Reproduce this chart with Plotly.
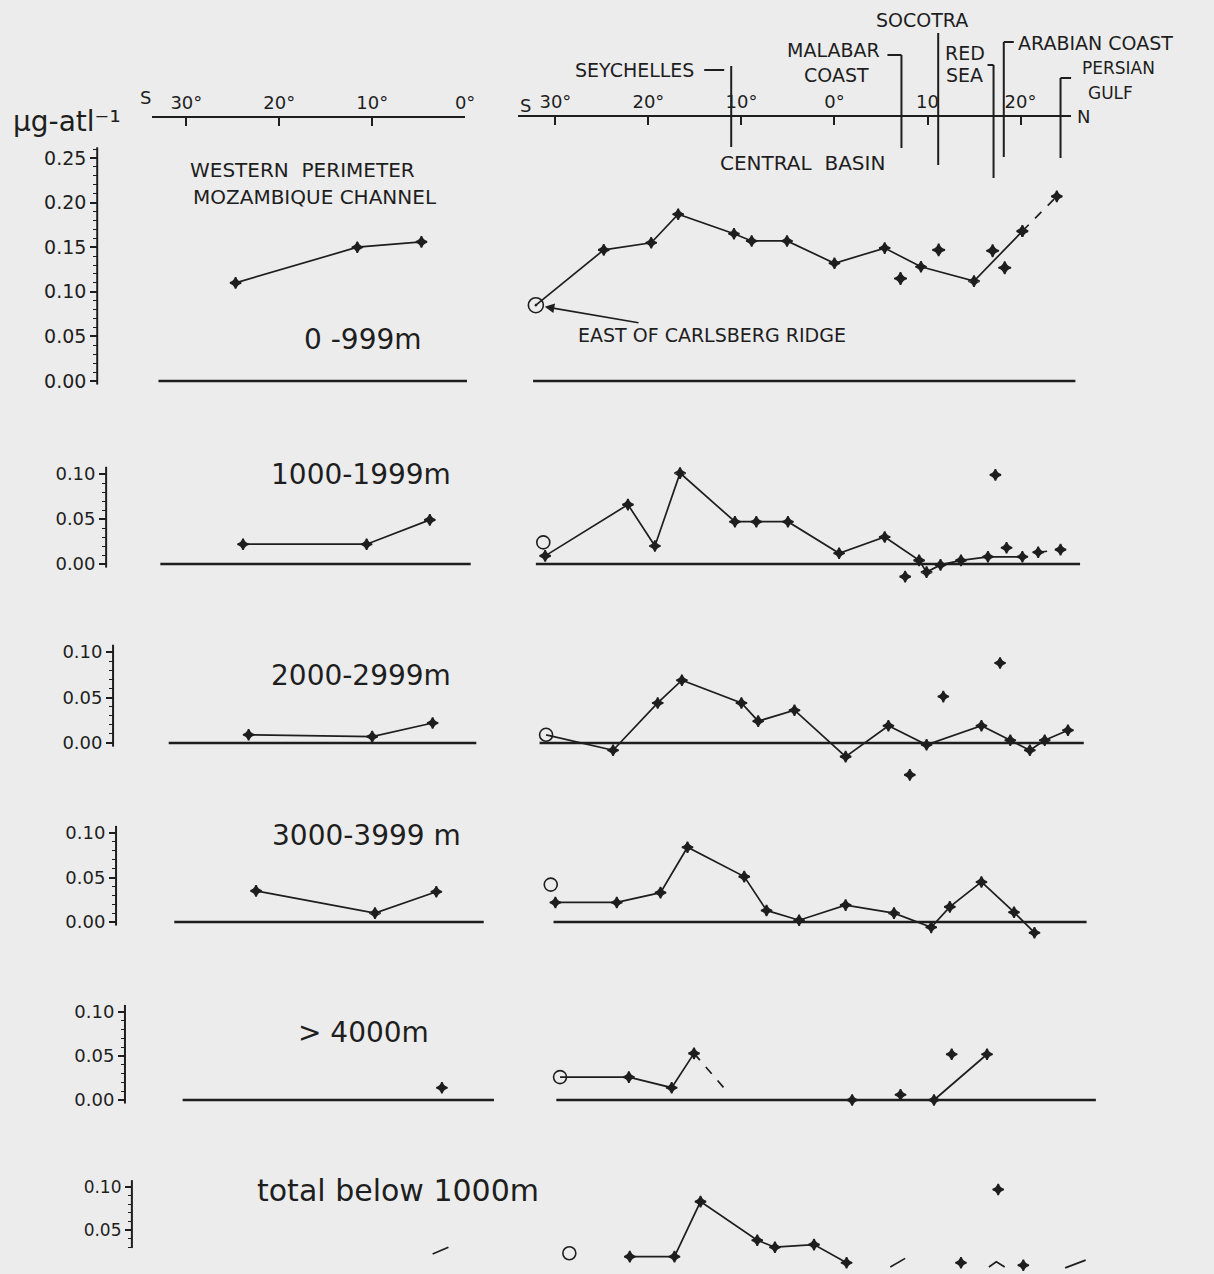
import plotly.graph_objects as go

W, H = 1214, 1274
INK = "#1e1e1e"
FONT = "DejaVu Sans"

# ------------------------------------------------------------------ data
# latitude in degrees: negative = south, positive = north
left_ticks = [-30, -20, -10, 0]
left_tick_text = ["30°", "20°", "10°", "0°"]
right_ticks = [-30, -20, -10, 0, 10, 20]
right_tick_text = ["30°", "20°", "10°", "0°", "10", "20°"]

depth_labels = ["0 -999m", "1000-1999m", "2000-2999m", "3000-3999 m", "> 4000m", "total below 1000m"]

# region boundaries along the central-basin transect (latitude)
boundary_lat = [-11.1, 7.2, 11.15, 17.1, 18.2, 24.3]

# transect extents (zero line) for each depth layer
west_extent = [(-33.0, 0.2), (-32.8, 0.6), (-31.9, 1.2), (-31.3, 2.0), (-30.4, 3.1), None]
central_extent = [(-32.4, 25.9), (-32.1, 26.4), (-31.7, 26.8), (-30.2, 27.1), (-29.9, 28.1), None]

# ---- layer 1 : 0-999 m
w1_lat = [-24.7, -11.6, -4.7]
w1_val = [0.110, 0.150, 0.156]
c1_lat = [-32.1, -24.8, -19.7, -16.8, -10.8, -8.9, -5.1, 0.0, 5.4, 9.3, 15.0, 20.2]
c1_val = [0.085, 0.147, 0.155, 0.187, 0.165, 0.157, 0.157, 0.132, 0.149, 0.128, 0.112, 0.168]
c1_dash_lat = [20.2, 23.9]
c1_dash_val = [0.168, 0.207]
c1_iso_lat = [7.1, 11.2, 17.0, 18.3]
c1_iso_val = [0.115, 0.147, 0.146, 0.127]
c1_circle = (-32.1, 0.085)

# ---- layer 2 : 1000-1999 m
w2_lat = [-23.9, -10.6, -3.8]
w2_val = [0.022, 0.022, 0.049]
c2_lat = [-31.1, -22.2, -19.3, -16.6, -10.7, -8.4, -5.0, 0.5, 5.4, 9.1, 9.9, 11.4, 13.6, 16.5, 20.2]
c2_val = [0.009, 0.066, 0.020, 0.101, 0.047, 0.047, 0.047, 0.012, 0.030, 0.004, -0.009, -0.001, 0.004, 0.008, 0.008]
c2_dash_lat = [21.9, 24.3]
c2_dash_val = [0.013, 0.016]
c2_iso_lat = [17.3, 7.6, 18.5]
c2_iso_val = [0.099, -0.014, 0.018]
c2_circle = (-31.3, 0.024)

# ---- layer 3 : 2000-2999 m
w3_lat = [-23.3, -10.0, -3.5]
w3_val = [0.009, 0.007, 0.022]
c3_lat = [-31.0, -23.8, -19.0, -16.4, -10.0, -8.2, -4.3, 1.2, 5.8, 9.9, 15.8, 18.9, 21.0, 22.6, 25.1]
c3_val = [0.009, -0.008, 0.044, 0.069, 0.044, 0.024, 0.036, -0.015, 0.019, -0.002, 0.019, 0.003, -0.008, 0.003, 0.014]
c3_iso_lat = [11.7, 17.8, 8.1]
c3_iso_val = [0.051, 0.088, -0.035]
c3_circle = (-31.0, 0.009)

# ---- layer 4 : 3000-3999 m
w4_lat = [-22.5, -9.7, -3.1]
w4_val = [0.035, 0.010, 0.034]
c4_lat = [-30.0, -23.4, -18.7, -15.8, -9.7, -7.3, -3.8, 1.2, 6.4, 10.4, 12.4, 15.8, 19.3, 21.5]
c4_val = [0.022, 0.022, 0.033, 0.084, 0.051, 0.013, 0.002, 0.019, 0.010, -0.006, 0.017, 0.045, 0.011, -0.012]
c4_circle = (-30.5, 0.042)

# ---- layer 5 : > 4000 m
w5_iso_lat = [-2.5]
w5_iso_val = [0.014]
c5a_lat = [-29.5, -22.1, -17.5, -15.1]
c5a_val = [0.026, 0.026, 0.014, 0.053]
c5_dash_lat = [-15.1, -11.9]
c5_dash_val = [0.053, 0.014]
c5b_lat = [10.7, 16.4]
c5b_val = [0.0, 0.052]
c5_iso_lat = [1.9, 7.1, 12.6]
c5_iso_val = [0.0, 0.006, 0.052]
c5_circle = (-29.5, 0.026)

# ---- layer 6 : total below 1000 m
w6_lat = [-3.5, -1.8]
w6_val = [0.022, 0.030]
c6_lat = [-22.0, -17.2, -14.4, -8.3, -6.4, -2.2, 1.3]
c6_val = [0.019, 0.019, 0.083, 0.038, 0.030, 0.033, 0.012]
c6_seg1_lat = [6.0, 7.6]
c6_seg1_val = [0.007, 0.017]
c6_seg2_lat = [16.6, 17.4, 18.3]
c6_seg2_val = [0.007, 0.013, 0.007]
c6_seg3_lat = [24.8, 27.0]
c6_seg3_val = [0.006, 0.015]
c6_iso_lat = [13.6, 20.3, 17.6]
c6_iso_val = [0.012, 0.009, 0.097]
c6_circle = (-28.5, 0.023)

# ------------------------------------------------------------------ layout geometry (pixels)
ROWS = [
    dict(zero=381, k=892, top=135, bottom=405, ax=98, lo=-0.004, hi=0.262, fs=19,
         ticks=[0.0, 0.05, 0.10, 0.15, 0.20, 0.25], mlo=0.0, mhi=0.26, label=(366, 340)),
    dict(zero=564, k=900, top=450, bottom=595, ax=107, lo=-0.004, hi=0.108, fs=18,
         ticks=[0.0, 0.05, 0.10], mlo=0.0, mhi=0.10, label=(364, 475)),
    dict(zero=743, k=910, top=625, bottom=790, ax=114, lo=-0.004, hi=0.108, fs=18,
         ticks=[0.0, 0.05, 0.10], mlo=0.0, mhi=0.10, label=(364, 675)),
    dict(zero=922, k=890, top=805, bottom=955, ax=117, lo=-0.004, hi=0.108, fs=18,
         ticks=[0.0, 0.05, 0.10], mlo=0.0, mhi=0.10, label=(370, 835)),
    dict(zero=1100, k=880, top=990, bottom=1125, ax=126, lo=-0.004, hi=0.108, fs=18,
         ticks=[0.0, 0.05, 0.10], mlo=0.0, mhi=0.10, label=(367, 1032)),
    dict(zero=1273, k=860, top=1165, bottom=1274, ax=133, lo=0.029, hi=0.108, fs=17,
         ticks=[0.05, 0.10], mlo=0.03, mhi=0.10, label=(401, 1190)),
]

L0, LK = 469.0, 9.37   # west panel: px of 0 deg, px per degree
R0, RK = 841.4, 9.38   # central panel


def px(x):
    return x / W


def py(y):
    return 1 - y / H


fig = go.Figure()


def yname(r):
    return "y" if r == 1 else f"y{r}"


def add(lat, val, r, side, mode="lines+markers", dash=None, width=1.7, symbol="star-diamond",
        size=8):
    fig.add_trace(go.Scatter(
        x=lat, y=val, xaxis="x" if side == "w" else "x2", yaxis=yname(r), mode=mode,
        line=dict(color=INK, width=width, dash=dash),
        marker=dict(symbol=symbol, size=size, color=INK, line=dict(color=INK, width=1.6)),
        cliponaxis=False, hoverinfo="skip", showlegend=False))


def circle(pt, r, dot=False):
    add([pt[0]], [pt[1]], r, "c", mode="markers",
        symbol="circle-open-dot" if dot else "circle-open", size=15 if dot else 13)


# zero lines
for i in range(6):
    r = i + 1
    if west_extent[i]:
        add(list(west_extent[i]), [0, 0], r, "w", mode="lines", width=2.6)
    if central_extent[i]:
        add(list(central_extent[i]), [0, 0], r, "c", mode="lines", width=2.6)

# layer 1
add(w1_lat, w1_val, 1, "w")
add(c1_lat[1:], c1_val[1:], 1, "c")
add(c1_lat[:2], c1_val[:2], 1, "c", mode="lines")
add(c1_dash_lat, c1_dash_val, 1, "c", dash="dash")
add(c1_iso_lat, c1_iso_val, 1, "c", mode="markers", size=9)
circle(c1_circle, 1, dot=True)

# layer 2
add(w2_lat, w2_val, 2, "w")
add(c2_lat, c2_val, 2, "c")
add(c2_dash_lat, c2_dash_val, 2, "c", dash="dash")
add(c2_iso_lat, c2_iso_val, 2, "c", mode="markers")
circle(c2_circle, 2)

# layer 3
add(w3_lat, w3_val, 3, "w")
add(c3_lat[1:], c3_val[1:], 3, "c")
add(c3_lat[:2], c3_val[:2], 3, "c", mode="lines")
add(c3_iso_lat, c3_iso_val, 3, "c", mode="markers")
circle(c3_circle, 3)

# layer 4
add(w4_lat, w4_val, 4, "w")
add(c4_lat, c4_val, 4, "c")
circle(c4_circle, 4)

# layer 5
add(w5_iso_lat, w5_iso_val, 5, "w", mode="markers")
add(c5a_lat[1:], c5a_val[1:], 5, "c")
add(c5a_lat[:2], c5a_val[:2], 5, "c", mode="lines")
add(c5_dash_lat, c5_dash_val, 5, "c", mode="lines", dash="dash")
add(c5b_lat, c5b_val, 5, "c")
add(c5_iso_lat, c5_iso_val, 5, "c", mode="markers")
circle(c5_circle, 5)

# layer 6
add(w6_lat, w6_val, 6, "w", mode="lines")
add(c6_lat, c6_val, 6, "c")
add(c6_seg1_lat, c6_seg1_val, 6, "c", mode="lines")
add(c6_seg2_lat, c6_seg2_val, 6, "c", mode="lines")
add(c6_seg3_lat, c6_seg3_val, 6, "c", mode="lines")
add(c6_iso_lat, c6_iso_val, 6, "c", mode="markers")
circle(c6_circle, 6)

# invisible traces so the two latitude scales at the top are drawn
fig.add_trace(go.Scatter(x=left_ticks, y=[0.0] * len(left_ticks), xaxis="x3", yaxis="y",
                         mode="markers", marker=dict(opacity=0), hoverinfo="skip",
                         showlegend=False))
fig.add_trace(go.Scatter(x=right_ticks, y=[0.0] * len(right_ticks), xaxis="x4", yaxis="y",
                         mode="markers", marker=dict(opacity=0), hoverinfo="skip",
                         showlegend=False))

layout = dict(
    width=W, height=H, margin=dict(l=0, r=0, t=0, b=0),
    paper_bgcolor="#ececec", plot_bgcolor="rgba(0,0,0,0)",
    font=dict(family=FONT, color=INK), showlegend=False,
    xaxis=dict(domain=[px(130), px(520)], range=[(130 - L0) / LK, (520 - L0) / LK], visible=False),
    xaxis2=dict(domain=[px(525), px(1120)], range=[(525 - R0) / RK, (1120 - R0) / RK], visible=False),
    xaxis3=dict(domain=[px(153), px(469)], range=[(153 - L0) / LK, 0], side="top", anchor="free",
                position=py(117), showline=True, linewidth=2, linecolor=INK, ticks="inside",
                ticklen=8, tickwidth=2, tickcolor=INK, tickvals=left_ticks, ticktext=left_tick_text,
                tickfont=dict(size=18), showgrid=False, zeroline=False),
    xaxis4=dict(domain=[px(522), px(1080)], range=[(522 - R0) / RK, (1080 - R0) / RK], side="top",
                anchor="free", position=py(116), showline=True, linewidth=2, linecolor=INK,
                ticks="inside", ticklen=8, tickwidth=2, tickcolor=INK, tickvals=right_ticks,
                ticktext=right_tick_text, tickfont=dict(size=18), showgrid=False, zeroline=False),
)

shapes = []
annotations = []
for i, rw in enumerate(ROWS):
    r = i + 1
    key = "yaxis" if r == 1 else f"yaxis{r}"
    minor_vals = [round(rw["mlo"] + 0.01 * j, 2) for j in range(int(round((rw["mhi"] - rw["mlo"]) / 0.01)) + 1)]
    layout[key] = dict(
        domain=[py(rw["bottom"]), py(rw["top"])],
        range=[(rw["zero"] - rw["bottom"]) / rw["k"], (rw["zero"] - rw["top"]) / rw["k"]],
        anchor="free", position=px(rw["ax"]),
        tickmode="array", tickvals=rw["ticks"], ticktext=[f"{v:.2f}" for v in rw["ticks"]],
        ticks="outside", ticklen=7, tickwidth=1.6, tickcolor=INK,
        minor=dict(tickmode="array", tickvals=minor_vals, ticks="outside", ticklen=4,
                   tickwidth=1.4, tickcolor=INK),
        tickfont=dict(size=rw["fs"]), showgrid=False, zeroline=False, showline=False,
    )
    shapes.append(dict(type="line", xref="paper", yref=yname(r), x0=px(rw["ax"]), x1=px(rw["ax"]),
                       y0=rw["lo"], y1=rw["hi"], line=dict(color=INK, width=2)))
    lx, ly = rw["label"]
    annotations.append(dict(x=px(lx), y=py(ly), xref="paper", yref="paper", text=depth_labels[i],
                            showarrow=False, font=dict(size=28 if r < 6 else 30),
                            xanchor="center", yanchor="middle"))

# region boundary markers on the central transect
bd_top = [66, 55, 33, 65, 42, 78]
bd_bot = [147, 148, 165, 178, 157, 158]
for lat, t, b in zip(boundary_lat, bd_top, bd_bot):
    shapes.append(dict(type="line", xref="x4", yref="paper", x0=lat, x1=lat, y0=py(b), y1=py(t),
                       line=dict(color=INK, width=2)))
# small leader ticks next to the labels
leaders = [(0, -27, -7, 70), (1, -14, 0, 55), (3, -6, 0, 65), (4, 0, 10, 42), (5, 0, 15, 78)]
for idx, a, b, yy in leaders:
    shapes.append(dict(type="line", xref="x4", xsizemode="pixel", xanchor=boundary_lat[idx],
                       x0=a, x1=b, yref="paper", y0=py(yy), y1=py(yy),
                       line=dict(color=INK, width=2)))


def note(x, y, text, size=17, xanchor="center"):
    annotations.append(dict(x=px(x), y=py(y), xref="paper", yref="paper", text=text,
                            showarrow=False, font=dict(size=size), xanchor=xanchor,
                            yanchor="middle"))


note(68, 122, "µg-atl⁻¹", size=28)
note(147, 98, "S", size=18)
note(530, 106, "S", size=18)
note(1092, 117, "N", size=18)
note(305, 170, "WESTERN  PERIMETER", size=20)
note(318, 197, "MOZAMBIQUE CHANNEL", size=20)
note(809, 163, "CENTRAL  BASIN", size=20)
note(702, 70, "SEYCHELLES", size=19, xanchor="right")
note(840, 50, "MALABAR", size=19)
note(843, 75, "COAST", size=19)
note(930, 20, "SOCOTRA", size=19)
note(973, 53, "RED", size=19)
note(973, 75, "SEA", size=19)
note(1024, 43, "ARABIAN COAST", size=19, xanchor="left")
note(1128, 68, "PERSIAN", size=17)
note(1120, 93, "GULF", size=17)

# label of the East-of-Carlsberg-Ridge station with its arrow
annotations.append(dict(x=c1_circle[0], y=c1_circle[1], xref="x2", yref="y",
                        text="EAST OF CARLSBERG RIDGE", showarrow=True, arrowhead=2,
                        arrowsize=1.2, arrowwidth=1.6, arrowcolor=INK, ax=176, ay=30,
                        standoff=9, font=dict(size=19), xanchor="center", yanchor="middle"))

layout["shapes"] = shapes
layout["annotations"] = annotations
fig.update_layout(**layout)

fig.write_html("out.html")
